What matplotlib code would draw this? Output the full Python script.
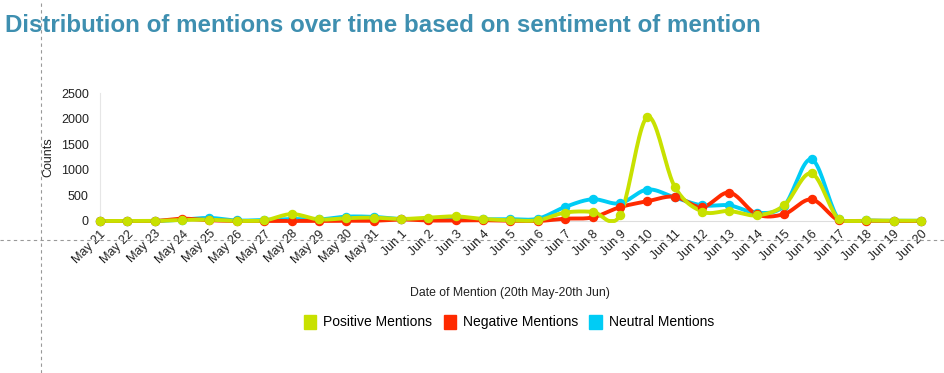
import numpy as np
import matplotlib.pyplot as plt
from matplotlib.lines import Line2D
from matplotlib.patches import Patch

plt.rcParams['font.family'] = ['Liberation Sans', 'DejaVu Sans']

# --- data ---
dates = ['May 21', 'May 22', 'May 23', 'May 24', 'May 25', 'May 26', 'May 27', 'May 28',
         'May 29', 'May 30', 'May 31', 'Jun 1', 'Jun 2', 'Jun 3', 'Jun 4', 'Jun 5', 'Jun 6',
         'Jun 7', 'Jun 8', 'Jun 9', 'Jun 10', 'Jun 11', 'Jun 12', 'Jun 13', 'Jun 14',
         'Jun 15', 'Jun 16', 'Jun 17', 'Jun 18', 'Jun 19', 'Jun 20']
positive = [0, 0, 0, 20, 25, 0, 10, 135, 30, 55, 65, 40, 65, 90, 40, 15, 15,
            165, 180, 110, 2030, 670, 185, 195, 110, 305, 930, 30, 10, 5, 5]
negative = [0, 0, 0, 45, 15, 0, 0, 0, 0, 5, 5, 30, 10, 10, 15, 5, 0,
            45, 70, 270, 385, 475, 270, 555, 130, 135, 420, 10, 5, 0, 0]
neutral = [0, 0, 0, 25, 60, 10, 20, 40, 30, 85, 80, 40, 45, 55, 35, 35, 45,
           275, 425, 345, 615, 460, 305, 305, 160, 300, 1205, 30, 10, 5, 5]

series = [('Positive Mentions', positive, '#c8e100'),
          ('Negative Mentions', negative, '#ff2a00'),
          ('Neutral Mentions', neutral, '#00ccf5')]


def smooth(x, y, n=20):
    # Catmull-Rom curve through the points, for drawing only
    x = np.asarray(x, float)
    y = np.asarray(y, float)
    px = np.concatenate([[x[0]], x, [x[-1]]])
    py = np.concatenate([[y[0]], y, [y[-1]]])
    xs, ys = [], []
    t = np.linspace(0, 1, n, endpoint=False)
    for i in range(1, len(px) - 2):
        for p, out in ((px, xs), (py, ys)):
            p0, p1, p2, p3 = p[i - 1], p[i], p[i + 1], p[i + 2]
            out.extend(0.5 * (2 * p1 + (-p0 + p2) * t + (2 * p0 - 5 * p1 + 4 * p2 - p3) * t ** 2
                              + (-p0 + 3 * p1 - 3 * p2 + p3) * t ** 3))
    xs.append(x[-1])
    ys.append(y[-1])
    return np.array(xs), np.maximum(np.array(ys), 0)


fig = plt.figure(figsize=(9.45, 3.73), dpi=100)
ax = fig.add_axes([100 / 945, 1 - 221 / 373, 821 / 945, 128 / 373])

x = np.arange(len(dates))
# draw neutral first, then negative, positive on top
for name, vals, col in [series[2], series[1], series[0]]:
    sx, sy = smooth(x, vals)
    ax.plot(sx, sy, color=col, lw=2.8, solid_capstyle='round', clip_on=False, zorder=3)
    ax.plot(x, vals, 'o', color=col, ms=5.8, clip_on=False, zorder=4)

ax.set_xlim(0, len(dates) - 1)
ax.set_ylim(0, 2500)
ax.set_yticks([0, 500, 1000, 1500, 2000, 2500])
ax.set_xticks(x)
ax.set_xticklabels(dates, rotation=45, ha='right', rotation_mode='anchor', fontsize=9, color='#222222')
ax.tick_params(axis='y', labelsize=9, labelcolor='#222222', length=0, pad=8)
ax.tick_params(axis='x', length=0, pad=5)
for s in ['top', 'right']:
    ax.spines[s].set_visible(False)
ax.spines['left'].set_color('#e6e6e6')
ax.spines['bottom'].set_color('#dddddd')
ax.set_ylabel('Counts', fontsize=9, color='#222222', labelpad=5)

fig.text(510 / 945, 1 - 293 / 373, 'Date of Mention (20th May-20th Jun)', ha='center', va='center',
         fontsize=8.8, color='#222222')

handles = [Patch(facecolor=c, edgecolor=c, label=n) for n, v, c in series]
fig.legend(handles=handles, loc='center', bbox_to_anchor=(509 / 945, 1 - 322 / 373), ncol=3,
           frameon=False, fontsize=10, handlelength=0.9, handleheight=1.2, handletextpad=0.5,
           columnspacing=0.8)

fig.text(5 / 945, 1 - 25 / 373, 'Distribution of mentions over time based on sentiment of mention',
         ha='left', va='center', fontsize=17.4, fontweight='bold', color='#3e8fb0')

# dashed guide lines seen in the screenshot
fig.add_artist(Line2D([41 / 945, 41 / 945], [0, 1], transform=fig.transFigure, color='#999999',
                      lw=0.8, ls=(0, (3, 3))))
fig.add_artist(Line2D([0, 1], [1 - 240 / 373, 1 - 240 / 373], transform=fig.transFigure,
                      color='#999999', lw=0.8, ls=(0, (3, 3))))

fig.savefig('out.png', dpi=100)
